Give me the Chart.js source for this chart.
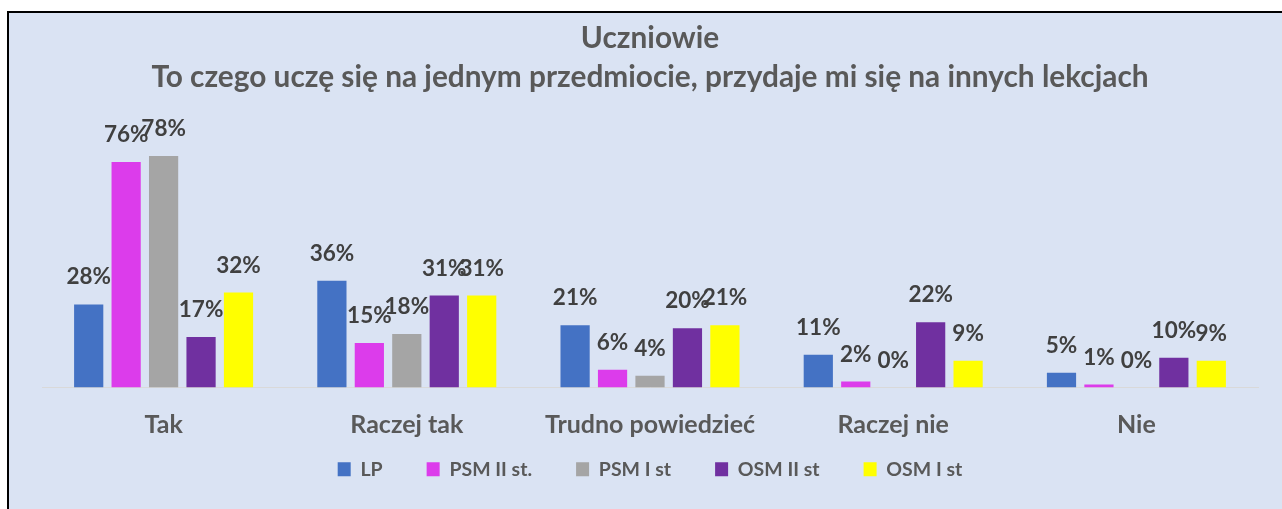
<!DOCTYPE html>
<html>
<head>
<meta charset="utf-8">
<script src="https://cdn.jsdelivr.net/npm/chart.js@4"></script>
<style>
  html, body { margin: 0; padding: 0; background: #ffffff; overflow: hidden; }
  #frame { position: absolute; left: 7px; top: 11px; width: 1290px; height: 520px;
           border-top: 2px solid #000; border-left: 2px solid #000; background: #dae3f3; }
  #wrap { position: absolute; left: 0; top: 0; width: 1254px; height: 496px; }
</style>
</head>
<body>
<div id="frame"><div id="wrap"><canvas id="c" width="1254" height="496"></canvas></div></div>
<script>
const titleLines = ['Uczniowie', 'To czego uczę się na jednym przedmiocie, przydaje mi się na innych lekcjach'];
const categories = ['Tak', 'Raczej tak', 'Trudno powiedzieć', 'Raczej nie', 'Nie'];
const seriesNames = ['LP', 'PSM II st.', 'PSM I st', 'OSM II st', 'OSM I st'];
const seriesColors = ['#4472c4', '#dc3ceb', '#a5a5a5', '#7030a0', '#ffff00'];
const valuesLP     = [28, 36, 21, 11, 5];
const valuesPSMII  = [76, 15, 6, 2, 1];
const valuesPSMI   = [78, 18, 4, 0, 0];
const valuesOSMII  = [17, 31, 20, 22, 10];
const valuesOSMI   = [32, 31, 21, 9, 9];
const seriesValues = [valuesLP, valuesPSMII, valuesPSMI, valuesOSMII, valuesOSMI];

const FONT = 'Lato, "Open Sans", sans-serif';
const LEGEND_LIFT = 38;

const labelPlugin = {
  id: 'valueLabels',
  beforeUpdate(chart) {
    // legend: keep wide horizontal spacing between items but a small gap above them
    const lg = chart.legend;
    if (lg && !lg.__patched) {
      lg.__patched = true;
      const fit0 = lg.fit, draw0 = lg.draw;
      lg.fit = function () { fit0.call(this); this.height -= LEGEND_LIFT; };
      lg.draw = function () { this.top -= LEGEND_LIFT; draw0.call(this); this.top += LEGEND_LIFT; };
    }
  },
  afterDatasetsDraw(chart) {
    const ctx = chart.ctx;
    ctx.save();
    ctx.font = 'bold 22.5px ' + FONT;
    ctx.fillStyle = '#404040';
    ctx.textAlign = 'center';
    ctx.textBaseline = 'alphabetic';
    chart.data.datasets.forEach((ds, i) => {
      const meta = chart.getDatasetMeta(i);
      meta.data.forEach((el, j) => {
        ctx.fillText(ds.data[j] + '%', el.x, el.y - 20);
      });
    });
    ctx.restore();
  }
};

new Chart(document.getElementById('c'), {
  type: 'bar',
  data: {
    labels: categories,
    datasets: seriesNames.map((n, i) => ({
      label: n,
      data: seriesValues[i],
      backgroundColor: seriesColors[i],
      borderWidth: 0,
      categoryPercentage: 0.77,
      barPercentage: 0.78
    }))
  },
  options: {
    responsive: false,
    animation: false,
    layout: { padding: { left: 33, right: 5, top: 0, bottom: 20 } },
    scales: {
      x: {
        grid: { display: false },
        border: { display: true, color: '#d9d9d9', width: 1 },
        ticks: { color: '#595959', font: { family: FONT, size: 25, weight: 'bold' }, padding: 14 }
      },
      y: { display: false, min: 0, max: 90 }
    },
    plugins: {
      title: {
        display: true,
        text: titleLines,
        color: '#595959',
        font: { family: FONT, size: 29.8, weight: 'bold', lineHeight: 1.3 },
        padding: { top: 6, bottom: 24 }
      },
      legend: {
        position: 'bottom',
        fullSize: false,
        labels: { boxWidth: 13, boxHeight: 14, padding: 44, color: '#595959',
                  font: { family: FONT, size: 19.5, weight: 'bold' } }
      },
      tooltip: { enabled: false }
    }
  },
  plugins: [labelPlugin]
});
</script>
</body>
</html>
